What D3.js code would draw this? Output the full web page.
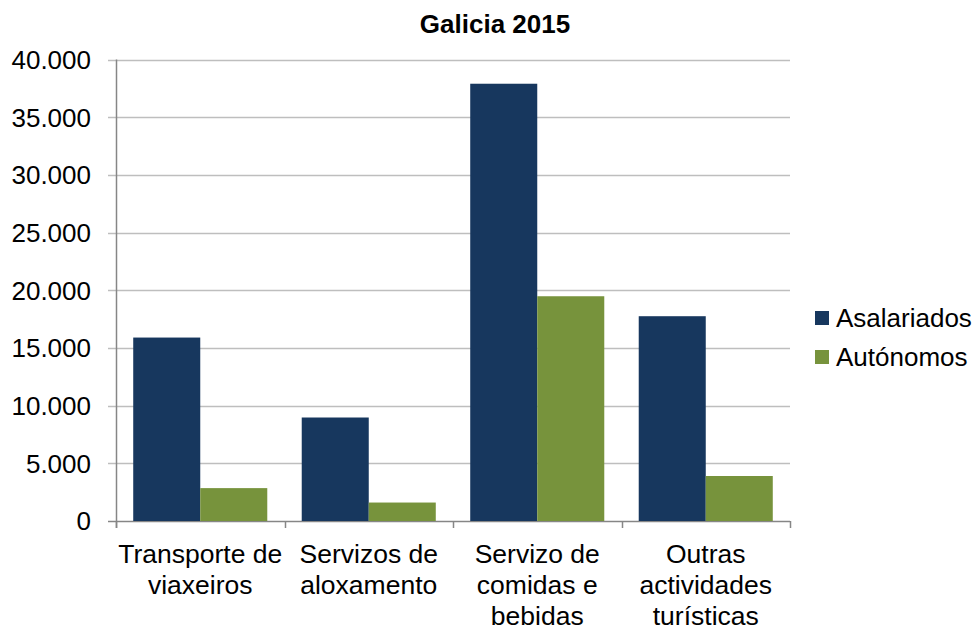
<!DOCTYPE html>
<html lang="gl">
<head>
    <meta charset="UTF-8">
    <title>Galicia 2015</title>
    <script src="https://d3js.org/d3.v7.min.js"></script>
    <style>
        body { margin: 0; background: white; }
        text { font-family: 'Liberation Sans', Arial, sans-serif; }
    </style>
</head>
<body>
    <svg id="chart" width="978" height="630"></svg>

    <script>
        // Data
        const categories = [
            "Transporte de viaxeiros",
            "Servizos de aloxamento",
            "Servizo de comidas e bebidas",
            "Outras actividades turísticas"
        ];
        const seriesNames = ["Asalariados", "Autónomos"];
        const asalariados = [15900, 8970, 37900, 17750];
        const autonomos = [2850, 1600, 19480, 3900];
        const yTicks = [0, 5000, 10000, 15000, 20000, 25000, 30000, 35000, 40000];
        const colors = ["#17375E", "#77933C"];

        const width = 978, height = 630;
        const plot = { left: 116, right: 790, top: 59.5, bottom: 521 };

        const svg = d3.select("#chart");
        svg.append("rect").attr("width", width).attr("height", height).attr("fill", "white");

        const rows = categories.map((c, i) => ({ cat: c, values: [asalariados[i], autonomos[i]] }));

        // Scales
        const x0 = d3.scaleBand().domain(categories).range([plot.left, plot.right]).padding(0);
        const x1 = d3.scaleBand().domain(seriesNames).range([0, x0.bandwidth()])
            .paddingInner(0).paddingOuter(0.257);
        const y = d3.scaleLinear().domain([0, 40000]).range([plot.bottom, plot.top]);

        const fmt = v => d3.format(",")(v).replace(/,/g, ".");

        // Gridlines
        svg.append("g").selectAll("line")
            .data(yTicks)
            .join("line")
            .attr("x1", plot.left - 8)
            .attr("x2", plot.right)
            .attr("y1", d => Math.round(y(d)) + 0.5)
            .attr("y2", d => Math.round(y(d)) + 0.5)
            .attr("stroke", d => d === 0 ? "#868686" : "#BEBEBE")
            .attr("stroke-width", 1.5);

        // Y labels
        svg.append("g").selectAll("text")
            .data(yTicks)
            .join("text")
            .attr("x", 91)
            .attr("y", d => y(d))
            .attr("dy", "0.36em")
            .attr("text-anchor", "end")
            .attr("font-size", "26px")
            .attr("fill", "#000")
            .text(fmt);

        // Bars
        svg.append("g").selectAll("g")
            .data(rows)
            .join("g")
            .attr("transform", d => `translate(${x0(d.cat)},0)`)
            .selectAll("rect")
            .data(d => d.values.map((v, i) => ({ key: seriesNames[i], v, i })))
            .join("rect")
            .attr("x", d => x1(d.key))
            .attr("width", x1.bandwidth())
            .attr("y", d => y(d.v))
            .attr("height", d => y(0) - y(d.v))
            .attr("fill", d => colors[d.i]);

        // Axes lines
        svg.append("line")
            .attr("x1", plot.left + 0.5).attr("x2", plot.left + 0.5)
            .attr("y1", plot.top).attr("y2", plot.bottom + 7)
            .attr("stroke", "#868686").attr("stroke-width", 1.5);

        const boundaries = categories.map(c => x0(c)).concat([plot.right]);
        svg.append("g").selectAll("line")
            .data(boundaries)
            .join("line")
            .attr("x1", d => Math.round(d) + 0.5).attr("x2", d => Math.round(d) + 0.5)
            .attr("y1", plot.bottom).attr("y2", plot.bottom + 7)
            .attr("stroke", "#868686").attr("stroke-width", 1.5);

        // Category labels with wrapping
        const catLabels = svg.append("g").selectAll("text")
            .data(categories)
            .join("text")
            .attr("x", d => x0(d) + x0.bandwidth() / 2)
            .attr("y", 563)
            .attr("text-anchor", "middle")
            .attr("font-size", "26.5px")
            .attr("fill", "#000");

        catLabels.each(function (d) {
            const el = d3.select(this);
            const words = d.split(" ");
            const maxW = x0.bandwidth() + 2;
            let line = [], lines = [];
            const probe = el.append("tspan");
            words.forEach(w => {
                line.push(w);
                probe.text(line.join(" "));
                if (probe.node().getComputedTextLength() > maxW && line.length > 1) {
                    line.pop();
                    lines.push(line.join(" "));
                    line = [w];
                }
            });
            lines.push(line.join(" "));
            probe.remove();
            lines.forEach((l, i) => {
                el.append("tspan")
                    .attr("x", x0(d) + x0.bandwidth() / 2)
                    .attr("dy", i === 0 ? 0 : 31)
                    .text(l);
            });
        });

        // Title
        svg.append("text")
            .attr("x", 495)
            .attr("y", 33)
            .attr("text-anchor", "middle")
            .attr("font-size", "26px")
            .attr("font-weight", "bold")
            .attr("fill", "#000")
            .text("Galicia 2015");

        // Legend
        const legend = svg.append("g").selectAll("g")
            .data(seriesNames)
            .join("g")
            .attr("transform", (d, i) => `translate(815,${318 + i * 39})`);

        legend.append("rect")
            .attr("x", 0).attr("y", -7)
            .attr("width", 14).attr("height", 14)
            .attr("fill", (d, i) => colors[i]);

        legend.append("text")
            .attr("x", 21)
            .attr("y", 0)
            .attr("dy", "0.36em")
            .attr("font-size", "26px")
            .attr("fill", "#000")
            .text(d => d);
    </script>
</body>
</html>
